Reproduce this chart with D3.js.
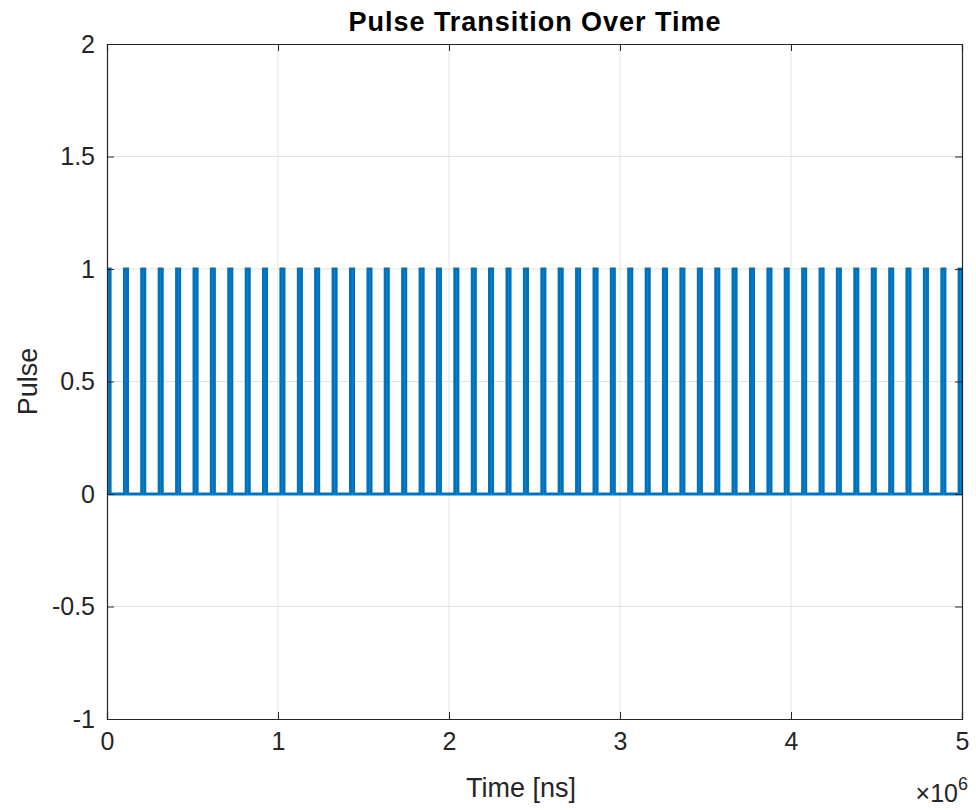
<!DOCTYPE html>
<html>
<head>
<meta charset="utf-8">
<script src="https://cdn.jsdelivr.net/npm/d3@7"></script>
<style>
  body { margin: 0; background: #fff; }
  svg { font-family: "Liberation Sans", Arial, Helvetica, sans-serif; }
</style>
</head>
<body>
<script>
// pulse rising edges, in units of 1e6 ns
var pulseStart = [0, 0.102, 0.203, 0.305, 0.407, 0.509, 0.610, 0.712, 0.814, 0.915,
  1.017, 1.119, 1.220, 1.322, 1.424, 1.526, 1.627, 1.729, 1.831, 1.932,
  2.034, 2.136, 2.237, 2.339, 2.441, 2.543, 2.644, 2.746, 2.848, 2.949,
  3.051, 3.153, 3.254, 3.356, 3.458, 3.560, 3.661, 3.763, 3.865, 3.966,
  4.068, 4.170, 4.271, 4.373, 4.475, 4.577, 4.678, 4.780, 4.882, 4.983];
var pulseWidth = 0.018;   // same units
var pulseHigh = 1;
var pulseLow = 0;
var xTicks = [0, 1, 2, 3, 4, 5];
var yTicks = [-1, -0.5, 0, 0.5, 1, 1.5, 2];

var W = 976, H = 810;
var pLeft = 107, pRight = 962, pTop = 44, pBottom = 719;

var svg = d3.select("body").append("svg")
  .attr("width", W)
  .attr("height", H);

var x = d3.scaleLinear().domain([0, 5]).range([pLeft, pRight]);
var y = d3.scaleLinear().domain([-1, 2]).range([pBottom, pTop]);

// grid
svg.append("g").selectAll("line")
  .data(xTicks.slice(1, -1))
  .enter().append("line")
  .attr("x1", function(d) { return x(d); })
  .attr("x2", function(d) { return x(d); })
  .attr("y1", pTop).attr("y2", pBottom)
  .attr("stroke", "#e3e3e3").attr("stroke-width", 1);

svg.append("g").selectAll("line")
  .data(yTicks.slice(1, -1))
  .enter().append("line")
  .attr("y1", function(d) { return y(d); })
  .attr("y2", function(d) { return y(d); })
  .attr("x1", pLeft).attr("x2", pRight)
  .attr("stroke", "#e3e3e3").attr("stroke-width", 1);

// signal
var pts = [];
pulseStart.forEach(function(s) {
  pts.push([s, pulseLow]);
  pts.push([s, pulseHigh]);
  pts.push([s + pulseWidth, pulseHigh]);
  pts.push([s + pulseWidth, pulseLow]);
});
pts.push([5.2, pulseLow]);

svg.append("clipPath").attr("id", "clip")
  .append("rect")
  .attr("x", pLeft).attr("y", pTop)
  .attr("width", pRight - pLeft).attr("height", pBottom - pTop);

var line = d3.line()
  .x(function(d) { return x(d[0]); })
  .y(function(d) { return y(d[1]); });

svg.append("path")
  .datum(pts)
  .attr("d", line)
  .attr("clip-path", "url(#clip)")
  .attr("fill", "none")
  .attr("stroke", "#0072BD")
  .attr("stroke-width", 3);

// axes with inward ticks on all four sides
var tick = 7;
svg.append("g").attr("transform", "translate(0," + pBottom + ")")
  .call(d3.axisBottom(x).tickValues(xTicks).tickSize(-tick).tickPadding(13).tickFormat(d3.format("d")));
svg.append("g").attr("transform", "translate(0," + pTop + ")")
  .call(d3.axisTop(x).tickValues(xTicks).tickSize(-tick).tickFormat(""));
svg.append("g").attr("transform", "translate(" + pLeft + ",0)")
  .call(d3.axisLeft(y).tickValues(yTicks).tickSize(-tick).tickPadding(12).tickFormat(function(d) { return String(d); }));
svg.append("g").attr("transform", "translate(" + pRight + ",0)")
  .call(d3.axisRight(y).tickValues(yTicks).tickSize(-tick).tickFormat(""));

svg.selectAll(".domain").attr("stroke", "#262626").attr("stroke-width", 1.2);
svg.selectAll(".tick line").attr("stroke", "#262626");
svg.selectAll(".tick text")
  .attr("fill", "#262626")
  .attr("font-size", "25px");

// labels
svg.append("text")
  .attr("x", (pLeft + pRight) / 2).attr("y", 31)
  .attr("text-anchor", "middle")
  .attr("font-size", "27px").attr("font-weight", "bold")
  .attr("fill", "#000")
  .attr("textLength", 372)
  .text("Pulse Transition Over Time");

svg.append("text")
  .attr("x", 521).attr("y", 797)
  .attr("text-anchor", "middle")
  .attr("font-size", "27px")
  .attr("fill", "#262626")
  .text("Time [ns]");

svg.append("text")
  .attr("transform", "translate(37," + y(0.5) + ") rotate(-90)")
  .attr("text-anchor", "middle")
  .attr("font-size", "27px")
  .attr("fill", "#262626")
  .text("Pulse");

var ex = svg.append("text")
  .attr("x", 968).attr("y", 802)
  .attr("text-anchor", "end")
  .attr("font-size", "25px")
  .attr("fill", "#262626");
ex.append("tspan").text("\u00d710");
ex.append("tspan").attr("dy", -12).attr("font-size", "18px").text("6");
</script>
</body>
</html>
